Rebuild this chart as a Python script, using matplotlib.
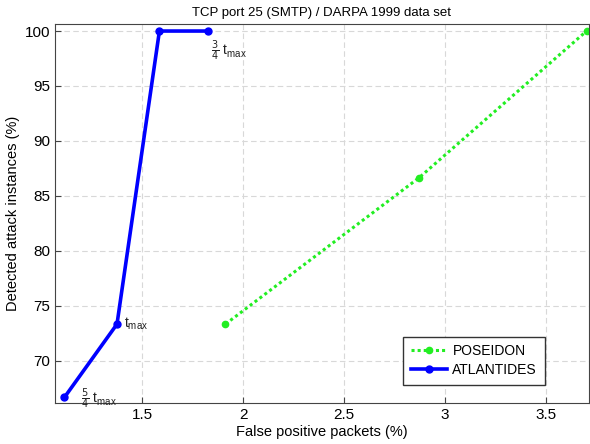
import numpy as np
import matplotlib
matplotlib.use('Agg')
import matplotlib.pyplot as plt

plt.rcParams['font.family'] = ['Liberation Sans', 'DejaVu Sans']

# data
atl_x = [1.115, 1.375, 1.585, 1.825]
atl_y = [66.67, 73.33, 100.0, 100.0]
pos_x = [1.912, 2.872, 3.700]
pos_y = [73.33, 86.67, 100.0]
atl_labels = [r'$\frac{5}{4}$ t$_{\mathregular{max}}$', r't$_{\mathregular{max}}$', None,
              r'$\frac{3}{4}$ t$_{\mathregular{max}}$']
label_offsets = [(12, -1), (5, 0), None, (2, -14)]

fig = plt.figure(figsize=(5.9, 4.44), dpi=100)
ax = fig.add_axes([55/590, 41/444, 534/590, 379/444])

ax.plot(pos_x, pos_y, color='#22ee22', linestyle=(0, (1, 1)), linewidth=2.2,
        marker='o', markersize=4.5, label='POSEIDON')
ax.plot(atl_x, atl_y, color='#0000ff', linestyle='-', linewidth=2.6,
        marker='o', markersize=5, label='ATLANTIDES')

for x, y, t, off in zip(atl_x, atl_y, atl_labels, label_offsets):
    if t is None:
        continue
    ax.annotate(t, (x, y), xytext=off, textcoords='offset points',
                fontsize=10, ha='left', va='center', color='#222222')

ax.set_xlim(1.068, 3.712)
ax.set_ylim(66.15, 100.64)
ax.set_xticks([1.5, 2, 2.5, 3, 3.5])
ax.set_xticklabels(['1.5', '2', '2.5', '3', '3.5'])
ax.set_yticks([70, 75, 80, 85, 90, 95, 100])
ax.tick_params(labelsize=11, direction='in', length=4, color='#444444')
ax.grid(True, linestyle=(0, (5, 3)), color='#d8d8d8', linewidth=0.8)
for s in ax.spines.values():
    s.set_color('#444444')

ax.set_xlabel('False positive packets (%)', fontsize=10.5, labelpad=2)
ax.set_ylabel('Detected attack instances (%)', fontsize=10.5, labelpad=3)
ax.set_title('TCP port 25 (SMTP) / DARPA 1999 data set', fontsize=9.5, pad=6)

leg = ax.legend(loc='lower right', bbox_to_anchor=(0.93, 0.03), fontsize=10,
                fancybox=False, edgecolor='#333333', framealpha=1,
                handlelength=2.6, borderpad=0.55, labelspacing=0.35,
                handletextpad=0.4)

fig.savefig('out.png', dpi=100)
